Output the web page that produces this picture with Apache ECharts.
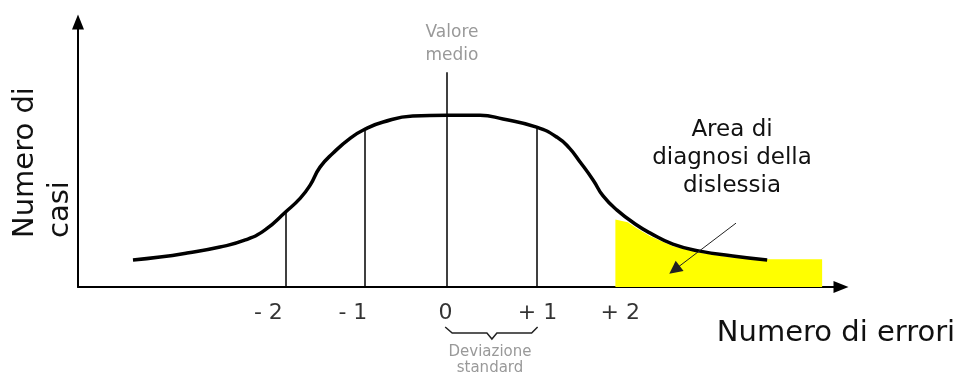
<!DOCTYPE html>
<html>
<head>
<meta charset="utf-8">
<style>
html, body { margin: 0; padding: 0; background: #fff; }
#chart_example { width: 957px; height: 379px; }
</style>
<script src="https://cdn.jsdelivr.net/npm/echarts@6/dist/echarts.min.js"></script>
</head>
<body>
<div id="chart_example"></div>
<script>
// bell curve (x in standard deviations from the mean, y = number of cases)
const curveX = [-3.83, -3.50, -3.17, -2.77, -2.46, -2.22, -1.97, -1.79, -1.67, -1.55, -1.39, -1.18, -1.0, -0.78, -0.42, 0, 0.40, 0.68, 1.09, 1.34, 1.49, 1.62, 1.78, 1.90, 2.07, 2.31, 2.47, 2.75, 3.08, 3.48, 3.90];
const curveY = [9.9, 11.0, 12.5, 14.7, 17.3, 21.0, 27.6, 32.7, 37.5, 44.1, 49.3, 54.8, 58.1, 60.7, 62.9, 63.2, 63.2, 61.8, 58.8, 55.1, 51.1, 46.0, 39.3, 33.5, 28.3, 22.8, 19.9, 15.8, 13.2, 11.4, 9.9];

// yellow "diagnosis" area
const areaX = [2.05, 2.20, 2.31, 2.47, 2.75, 3.08, 3.48, 3.90, 4.57];
const areaY = [24.8, 23.8, 21.6, 18.8, 15.0, 12.6, 10.8, 10.2, 10.2];

// vertical guide lines
const guideX = [-1.97, -1.0, 0, 1.09];
const guideTop = [27.6, 58.1, 79, 58.8];

// tick labels under the axis
const tickLabels = ["- 2", "- 1", "0", "+ 1", "+ 2"];
const tickPos = [-2.18, -1.15, -0.02, 1.10, 2.11];

// pointer to the yellow area
const pointerFrom = [3.52, 23.5];
const pointerTo = [2.77, 6.3];

const font = "DejaVu Sans";

let myChart = echarts.init(document.getElementById("chart_example"));
let option = {
  animation: false,
  grid: { left: 78, right: 116, top: 22, bottom: 92 },
  xAxis: {
    type: "value",
    min: -4.5,
    max: 4.8,
    axisLine: {
      lineStyle: { color: "#000", width: 2 },
      symbol: ["none", "triangle"],
      symbolSize: [12, 15]
    },
    axisTick: { show: false },
    axisLabel: { show: false },
    splitLine: { show: false }
  },
  yAxis: {
    type: "value",
    min: 0,
    max: 97.5,
    axisLine: {
      show: true,
      onZero: false,
      lineStyle: { color: "#000", width: 2 },
      symbol: ["none", "triangle"],
      symbolSize: [12, 15]
    },
    axisTick: { show: false },
    axisLabel: { show: false },
    splitLine: { show: false }
  },
  series: [
    {
      name: "area",
      type: "line",
      data: areaX.map((x, i) => [x, areaY[i]]),
      symbol: "none",
      lineStyle: { width: 0 },
      areaStyle: { color: "#ffff00", opacity: 1 },
      z: 1
    },
    {
      name: "guide",
      type: "lines",
      coordinateSystem: "cartesian2d",
      data: guideX.map((x, i) => ({ coords: [[x, 0], [x, guideTop[i]]] })),
      lineStyle: { color: "#000", width: 1.5, opacity: 1 },
      z: 2
    },
    {
      name: "curve",
      type: "line",
      data: curveX.map((x, i) => [x, curveY[i]]),
      symbol: "none",
      smooth: 0.5,
      lineStyle: { color: "#000", width: 3.5 },
      z: 3
    },
    {
      name: "pointer",
      type: "lines",
      coordinateSystem: "cartesian2d",
      symbol: ["none", "triangle"],
      symbolSize: 13,
      data: [{ coords: [pointerFrom, pointerTo] }],
      lineStyle: { color: "#222", width: 1, opacity: 1 },
      z: 4
    },
    {
      name: "ticks",
      type: "scatter",
      data: tickPos.map(x => [x, 0]),
      symbolSize: 1,
      clip: false,
      silent: true,
      itemStyle: { color: "transparent" },
      label: {
        show: true,
        position: "inside",
        offset: [0, 26],
        formatter: p => tickLabels[p.dataIndex],
        color: "#000",
        fontSize: 22,
        fontFamily: font
      },
      z: 5
    }
  ]
};
myChart.setOption(option);

// brace under 0 .. +1 and the free text
let b0 = myChart.convertToPixel({ gridIndex: 0 }, [guideX[2], 0]);
let b1 = myChart.convertToPixel({ gridIndex: 0 }, [guideX[3], 0]);
let by = b0[1];
let mid = (b0[0] + b1[0]) / 2;

myChart.setOption({
  graphic: [
    {
      type: "polyline",
      shape: {
        points: [
          [b0[0] - 2, by + 40], [b0[0] + 5, by + 46], [mid - 5, by + 46], [mid, by + 52],
          [mid + 5, by + 46], [b1[0] - 5, by + 46], [b1[0] + 1, by + 40]
        ]
      },
      style: { stroke: "#222", lineWidth: 1.5, fill: null }
    },
    {
      type: "text", x: 452, y: 44,
      style: { text: "Valore\nmedio", fontSize: 17, lineHeight: 23, fontFamily: font, fill: "#999", align: "center", verticalAlign: "middle" }
    },
    {
      type: "text", x: 490, y: 360,
      style: { text: "Deviazione\nstandard", fontSize: 15, lineHeight: 16, fontFamily: font, fill: "#999", align: "center", verticalAlign: "middle" }
    },
    {
      type: "text", x: 836, y: 333,
      style: { text: "Numero di errori", fontSize: 29, fontFamily: font, fill: "#111", align: "center", verticalAlign: "middle" }
    },
    {
      type: "text", x: 25, y: 238, rotation: Math.PI / 2,
      style: { text: "Numero di", fontSize: 29, fontFamily: font, fill: "#111", align: "left", verticalAlign: "middle" }
    },
    {
      type: "text", x: 60, y: 238, rotation: Math.PI / 2,
      style: { text: "casi", fontSize: 29, fontFamily: font, fill: "#111", align: "left", verticalAlign: "middle" }
    },
    {
      type: "text", x: 732, y: 158,
      style: { text: "Area di\ndiagnosi della\ndislessia", fontSize: 23, lineHeight: 28, fontFamily: font, fill: "#111", align: "center", verticalAlign: "middle" }
    }
  ]
});

window.addEventListener("resize", function() {
  myChart.resize();
});
</script>
</body>
</html>
